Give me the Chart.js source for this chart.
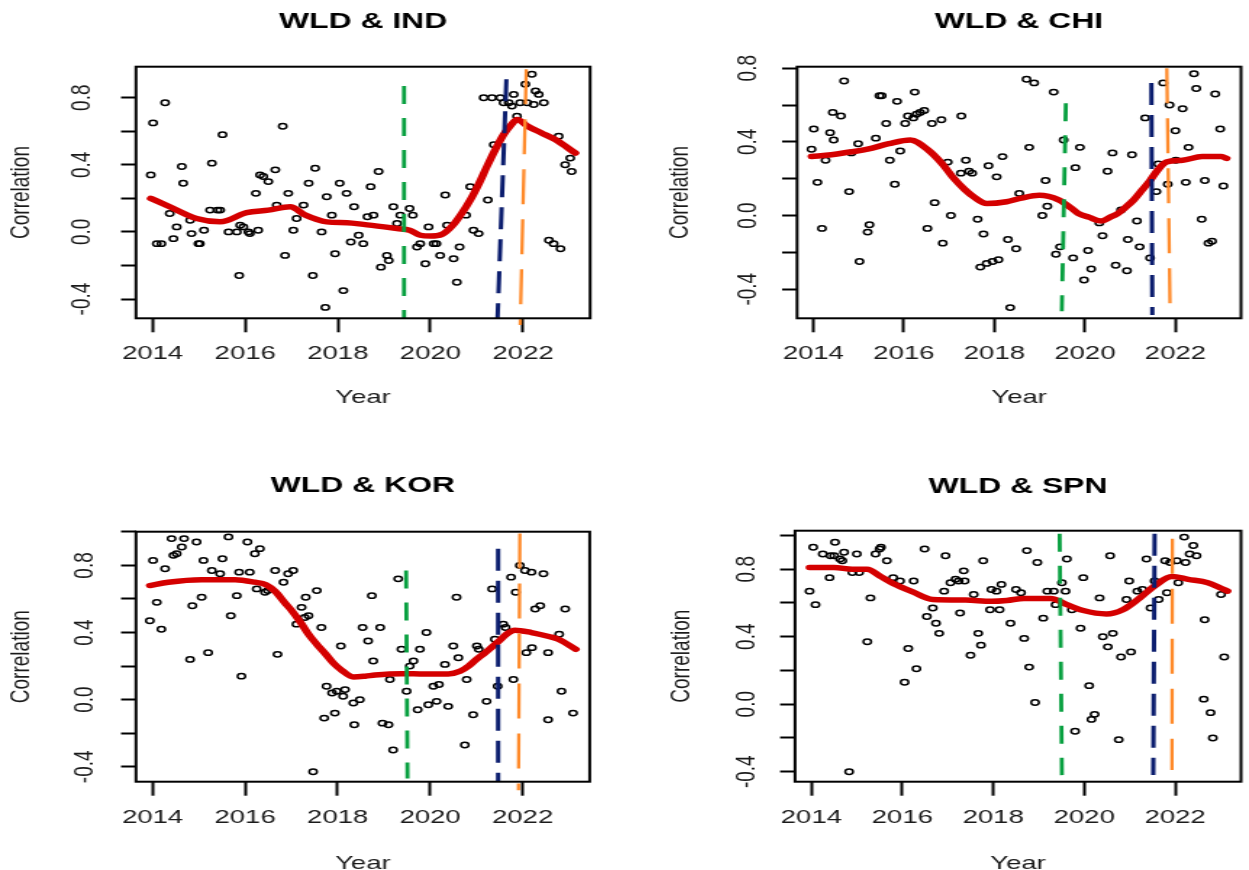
<!DOCTYPE html>
<html>
<head>
<meta charset="utf-8">
<script src="https://cdn.jsdelivr.net/npm/chart.js@4.4.1/dist/chart.umd.min.js"></script>
<style>
  html, body { margin: 0; padding: 0; background: #fff; overflow: hidden; }
  body { width: 1249px; height: 870px; position: relative; }
  canvas { position: absolute; }
</style>
</head>
<body>
<canvas id="pIND"></canvas>
<canvas id="pCHI"></canvas>
<canvas id="pKOR"></canvas>
<canvas id="pSPN"></canvas>
<script>
// axes
const xTicks = [2014, 2016, 2018, 2020, 2022];
const xRange = [2013.64, 2023.45];
const yTicks = [-0.4, -0.2, 0, 0.2, 0.4, 0.6, 0.8];
const yTicksTall = [-0.4, -0.2, 0, 0.2, 0.4, 0.6, 0.8, 1.0];
const yLabelled = [-0.4, 0, 0.4, 0.8];

// WLD & IND
const indYear = [2013.96,2014.01,2014.09,2014.19,2014.27,2014.37,2014.45,2014.52,2014.63,2014.66,
  2014.81,2014.84,2014.99,2015.02,2015.11,2015.24,2015.28,2015.40,2015.46,2015.51,
  2015.64,2015.82,2015.87,2015.89,2015.96,2016.07,2016.10,2016.23,2016.28,2016.32,
  2016.39,2016.50,2016.65,2016.68,2016.81,2016.86,2016.93,2017.04,2017.11,2017.26,
  2017.37,2017.46,2017.51,2017.65,2017.73,2017.76,2017.87,2017.94,2018.04,2018.12,
  2018.19,2018.28,2018.35,2018.45,2018.55,2018.64,2018.71,2018.77,2018.88,2018.93,
  2019.06,2019.10,2019.20,2019.28,2019.35,2019.55,2019.62,2019.71,2019.78,2019.89,
  2019.96,2020.07,2020.13,2020.21,2020.32,2020.36,2020.50,2020.57,2020.63,2020.77,
  2020.86,2020.93,2021.04,2021.15,2021.24,2021.33,2021.37,2021.51,2021.58,2021.69,
  2021.76,2021.80,2021.87,2021.94,2022.05,2022.09,2022.19,2022.23,2022.27,2022.34,
  2022.45,2022.56,2022.66,2022.77,2022.81,2022.91,2023.02,2023.05];
const indCorr = [0.34,0.65,-0.07,-0.07,0.77,0.11,-0.04,0.03,0.39,0.29,
  0.07,-0.01,-0.07,-0.07,0.01,0.13,0.41,0.13,0.13,0.58,
  0.00,0.00,-0.26,0.04,0.03,0.00,-0.01,0.23,0.01,0.34,
  0.33,0.30,0.37,0.16,0.63,-0.14,0.23,0.01,0.08,0.16,
  0.29,-0.26,0.38,0.00,-0.45,0.21,0.10,-0.13,0.29,-0.35,
  0.23,-0.06,0.15,-0.02,-0.07,0.09,0.27,0.10,0.36,-0.21,
  -0.14,-0.17,0.15,0.05,0.10,0.14,0.10,-0.09,-0.07,-0.19,
  0.03,-0.07,-0.07,-0.14,0.22,0.04,-0.16,-0.30,-0.09,0.10,
  0.27,0.01,-0.01,0.80,0.19,0.80,0.52,0.80,0.77,0.77,
  0.75,0.82,0.69,0.77,0.88,0.77,0.94,0.76,0.84,0.82,
  0.77,-0.05,-0.07,0.57,-0.10,0.40,0.44,0.36];
const indFitYear = [2013.96,2014.37,2014.95,2015.46,2016.03,2016.5,2016.97,2017.3,2017.76,2018.2,
  2018.55,2019.0,2019.28,2019.55,2019.78,2020.0,2020.25,2020.5,2020.7,2020.86,
  2021.05,2021.22,2021.4,2021.58,2021.75,2021.87,2022.1,2022.4,2022.7,2023.13];
const indFit = [0.20,0.15,0.08,0.06,0.115,0.13,0.15,0.10,0.06,0.055,
  0.045,0.03,0.02,0.01,-0.02,-0.025,-0.015,0.045,0.12,0.19,
  0.29,0.39,0.49,0.58,0.64,0.67,0.63,0.59,0.55,0.47];
const indMarkTopX = [2019.43, 2021.64, 2022.07];
const indMarkBotX = [2019.43, 2021.45, 2021.94];
const indMarkTop = [0.87, 0.91, 0.97];
const indMarkBot = [-0.515, -0.515, -0.555];
const indRange = [-0.515, 0.985];

// WLD & CHI
const chiYear = [2013.96,2014.01,2014.09,2014.19,2014.27,2014.37,2014.43,2014.45,2014.61,2014.68,
  2014.79,2014.84,2014.99,2015.02,2015.20,2015.24,2015.38,2015.46,2015.51,2015.61,
  2015.69,2015.80,2015.85,2015.92,2016.03,2016.09,2016.21,2016.24,2016.28,2016.36,
  2016.45,2016.52,2016.62,2016.68,2016.83,2016.86,2016.97,2017.04,2017.26,2017.27,
  2017.37,2017.44,2017.51,2017.63,2017.69,2017.76,2017.83,2017.87,2017.96,2018.05,
  2018.09,2018.18,2018.30,2018.35,2018.48,2018.55,2018.71,2018.77,2018.88,2019.06,
  2019.13,2019.17,2019.31,2019.36,2019.45,2019.53,2019.74,2019.79,2019.89,2019.98,
  2020.07,2020.14,2020.32,2020.39,2020.50,2020.61,2020.68,2020.80,2020.93,2020.95,
  2021.04,2021.15,2021.21,2021.33,2021.44,2021.58,2021.62,2021.73,2021.83,2021.87,
  2022.00,2022.01,2022.16,2022.23,2022.29,2022.41,2022.46,2022.58,2022.65,2022.73,
  2022.81,2022.88,2022.99,2023.06];
const chiCorr = [0.36,0.47,0.18,-0.07,0.30,0.45,0.56,0.41,0.54,0.73,
  0.13,0.34,0.39,-0.25,-0.09,-0.05,0.42,0.65,0.65,0.50,
  0.30,0.17,0.62,0.35,0.50,0.54,0.53,0.67,0.55,0.56,
  0.57,-0.07,0.50,0.07,0.52,-0.15,0.29,0.00,0.23,0.54,
  0.30,0.24,0.23,-0.02,-0.28,-0.10,-0.26,0.27,-0.25,0.21,
  -0.24,0.32,-0.13,-0.50,-0.18,0.12,0.74,0.37,0.72,0.00,
  0.19,0.05,0.67,-0.21,-0.17,0.41,-0.23,0.26,0.37,-0.35,
  -0.19,-0.29,-0.04,-0.11,0.24,0.34,-0.27,0.03,-0.30,-0.13,
  0.33,-0.03,-0.17,0.53,-0.23,0.13,0.28,0.72,0.17,0.60,
  0.46,0.30,0.58,0.18,0.37,0.77,0.69,-0.02,0.19,-0.15,
  -0.14,0.66,0.47,0.16];
const chiFitYear = [2013.96,2014.4,2014.81,2015.2,2015.67,2016.14,2016.54,2016.85,2017.11,2017.35,
  2017.55,2017.83,2018.27,2018.6,2018.99,2019.42,2019.7,2019.85,2020.1,2020.36,
  2020.55,2020.72,2020.9,2021.08,2021.27,2021.44,2021.62,2021.8,2022.16,2022.59,
  2023.02,2023.13];
const chiFit = [0.32,0.33,0.345,0.36,0.39,0.41,0.355,0.28,0.20,0.14,
  0.10,0.065,0.075,0.095,0.11,0.085,0.04,0.012,-0.01,-0.03,
  -0.01,0.01,0.045,0.085,0.14,0.19,0.25,0.29,0.30,0.32,
  0.32,0.31];
const chiMarkTopX = [2019.58, 2021.47, 2021.81];
const chiMarkBotX = [2019.49, 2021.49, 2021.88];
const chiMarkTop = [0.61, 0.72, 0.80];
const chiMarkBot = [-0.52, -0.54, -0.48];
const chiRange = [-0.558, 0.808];

// WLD & KOR
const korYear = [2013.94,2014.01,2014.09,2014.19,2014.27,2014.41,2014.45,2014.52,2014.63,2014.68,
  2014.81,2014.86,2014.95,2015.06,2015.10,2015.20,2015.28,2015.46,2015.51,2015.64,
  2015.69,2015.82,2015.87,2015.92,2016.05,2016.10,2016.21,2016.25,2016.32,2016.43,
  2016.49,2016.65,2016.70,2016.83,2016.93,2017.04,2017.11,2017.22,2017.29,2017.31,
  2017.37,2017.47,2017.55,2017.65,2017.71,2017.76,2017.88,2017.94,2017.98,2018.07,
  2018.12,2018.16,2018.34,2018.36,2018.48,2018.54,2018.66,2018.74,2018.77,2018.92,
  2018.97,2019.10,2019.13,2019.20,2019.31,2019.38,2019.49,2019.56,2019.64,2019.73,
  2019.78,2019.92,2019.96,2020.07,2020.14,2020.19,2020.32,2020.39,2020.50,2020.57,
  2020.61,2020.75,2020.79,2020.93,2021.01,2021.05,2021.22,2021.34,2021.40,2021.46,
  2021.58,2021.63,2021.75,2021.80,2021.85,2021.94,2022.05,2022.08,2022.19,2022.20,
  2022.27,2022.38,2022.45,2022.55,2022.55,2022.79,2022.84,2022.92,2023.09];
const korCorr = [0.47,0.83,0.58,0.42,0.78,0.96,0.86,0.87,0.91,0.96,
  0.24,0.56,0.94,0.61,0.83,0.28,0.77,0.75,0.84,0.97,
  0.50,0.62,0.76,0.14,0.94,0.76,0.87,0.66,0.90,0.64,
  0.65,0.77,0.27,0.70,0.75,0.77,0.45,0.55,0.49,0.61,
  0.50,-0.43,0.65,0.43,-0.11,0.08,0.04,-0.08,0.05,0.32,
  0.02,0.06,-0.02,-0.15,0.00,0.43,0.35,0.62,0.23,0.43,
  -0.14,-0.15,0.12,-0.30,0.72,0.30,0.05,0.20,0.23,-0.06,
  0.30,0.40,-0.03,0.08,-0.01,0.09,0.21,-0.04,0.32,0.61,
  0.25,-0.27,0.12,-0.09,0.32,0.30,-0.01,0.66,0.36,0.08,
  0.45,0.43,0.73,0.12,0.64,0.80,0.77,0.28,0.76,0.31,
  0.54,0.56,0.75,0.28,-0.12,0.39,0.05,0.54,-0.08];
const korFitYear = [2013.94,2014.34,2015.06,2015.78,2016.21,2016.45,2016.65,2016.85,2017.01,2017.2,
  2017.37,2017.55,2017.73,2017.9,2018.09,2018.34,2018.6,2018.81,2019.38,2019.89,
  2020.39,2020.65,2020.83,2021.0,2021.19,2021.47,2021.65,2021.83,2022.19,2022.59,
  2022.77,2023.15];
const korFit = [0.68,0.70,0.715,0.715,0.70,0.685,0.645,0.58,0.53,0.46,
  0.39,0.33,0.275,0.22,0.175,0.135,0.14,0.147,0.155,0.153,
  0.153,0.17,0.20,0.24,0.28,0.345,0.39,0.414,0.40,0.375,
  0.36,0.30];
const korMarkTopX = [2019.48, 2021.47, 2021.94];
const korMarkBotX = [2019.51, 2021.47, 2021.91];
const korMarkTop = [0.77, 0.90, 0.99];
const korMarkBot = [-0.47, -0.489, -0.54];
const korRange = [-0.489, 1.001];

// WLD & SPN
const spnYear = [2013.96,2014.04,2014.09,2014.25,2014.40,2014.42,2014.50,2014.52,2014.63,2014.68,
  2014.72,2014.83,2014.90,2015.00,2015.05,2015.23,2015.30,2015.41,2015.50,2015.53,
  2015.66,2015.80,2015.95,2016.05,2016.13,2016.25,2016.31,2016.49,2016.54,2016.67,
  2016.74,2016.81,2016.92,2016.95,2017.06,2017.17,2017.24,2017.27,2017.35,2017.37,
  2017.50,2017.57,2017.67,2017.73,2017.78,2017.93,2017.96,2018.07,2018.14,2018.18,
  2018.38,2018.50,2018.61,2018.68,2018.74,2018.79,2018.92,2018.97,2019.10,2019.19,
  2019.33,2019.37,2019.51,2019.59,2019.62,2019.73,2019.80,2019.92,2019.98,2020.11,
  2020.16,2020.23,2020.34,2020.41,2020.52,2020.57,2020.63,2020.76,2020.81,2020.93,
  2020.99,2021.03,2021.17,2021.28,2021.37,2021.46,2021.55,2021.64,2021.78,2021.82,
  2021.89,2022.04,2022.07,2022.20,2022.23,2022.32,2022.40,2022.47,2022.63,2022.65,
  2022.78,2022.83,2023.01,2023.08];
const spnCorr = [0.67,0.93,0.59,0.89,0.75,0.88,0.88,0.96,0.86,0.85,
  0.90,-0.40,0.78,0.89,0.78,0.37,0.63,0.89,0.92,0.93,
  0.85,0.75,0.73,0.13,0.33,0.73,0.21,0.92,0.52,0.57,
  0.48,0.42,0.67,0.88,0.72,0.74,0.73,0.54,0.79,0.73,
  0.29,0.65,0.42,0.35,0.85,0.56,0.68,0.67,0.56,0.71,
  0.48,0.68,0.66,0.39,0.91,0.22,0.01,0.84,0.51,0.67,
  0.67,0.59,0.72,0.67,0.86,0.56,-0.16,0.45,0.75,0.11,
  -0.09,-0.06,0.63,0.40,0.34,0.88,0.42,-0.21,0.28,0.62,
  0.73,0.31,0.67,0.68,0.86,0.57,0.73,0.62,0.85,0.66,
  0.84,0.85,0.72,0.99,0.84,0.89,0.94,0.88,0.03,0.50,
  -0.05,-0.20,0.65,0.28];
const spnFitYear = [2013.96,2014.5,2014.9,2015.23,2015.5,2015.8,2016.23,2016.67,2017.39,2017.96,
  2018.3,2018.68,2019.26,2019.62,2019.98,2020.49,2020.85,2021.21,2021.57,2021.93,
  2022.29,2022.72,2023.01,2023.15];
const spnFit = [0.81,0.81,0.80,0.80,0.76,0.715,0.665,0.62,0.617,0.61,
  0.615,0.627,0.627,0.59,0.555,0.535,0.56,0.627,0.705,0.756,
  0.74,0.72,0.687,0.67];
const spnMarkTopX = [2019.46, 2021.55, 2021.94];
const spnMarkBotX = [2019.51, 2021.52, 2021.93];
const spnMarkTop = [1.01, 1.01, 0.98];
const spnMarkBot = [-0.42, -0.42, -0.39];
const spnRange = [-0.459, 1.028];

// the original figure is stretched sideways, so each canvas is drawn narrow and widened by CSS
const SX = 1.45;
const FONT = 'Liberation Sans';

const markStyle = [
  { color: '#08a040', width: 2.8, dash: [18, 14] },
  { color: '#0b1d6e', width: 3, dash: [22, 10] },
  { color: '#ff8a2a', width: 2.3, dash: [35, 15] }
];

const layout = {
  IND: { left: 0, top: 0, w: 414, h: 420, axisW: 93.8, padR: 6.8, titleTop: 9.1, titleBot: 31.2, axisH: 101.7, yearPad: 10.6, corrPad: 3.6, yTickPad: 10.8 },
  CHI: { left: 640, top: 0, w: 420, h: 420, axisW: 108.3, padR: 0.7, titleTop: 9.1, titleBot: 31.2, axisH: 101.7, yearPad: 10.6, corrPad: 16.2, yTickPad: 6.9 },
  KOR: { left: 0, top: 440, w: 414, h: 450, axisW: 93.8, padR: 7.1, titleTop: 32.8, titleBot: 32.5, axisH: 108.3, yearPad: 14.6, corrPad: 3.6, yTickPad: 8.5 },
  SPN: { left: 640, top: 440, w: 420, h: 450, axisW: 106.9, padR: 0.7, titleTop: 33.8, titleBot: 30.5, axisH: 108.3, yearPad: 14.6, corrPad: 17.4, yTickPad: 6.4 }
};

const boxPlugin = {
  id: 'box',
  afterDraw(chart) {
    const { ctx, chartArea: a } = chart;
    ctx.save();
    ctx.strokeStyle = '#000';
    ctx.lineWidth = 2;
    ctx.strokeRect(a.left, a.top, a.right - a.left, a.bottom - a.top);
    ctx.restore();
  }
};

const pairs = (xs, ys) => xs.map((x, i) => ({ x, y: ys[i] }));

function panel(key, title, years, corr, fitYears, fit, mTopX, mBotX, mTop, mBot, range, yt) {
  const L = layout[key];
  const cv = document.getElementById('p' + key);
  cv.width = L.w;
  cv.height = L.h;
  cv.style.left = L.left + 'px';
  cv.style.top = L.top + 'px';
  cv.style.width = (L.w * SX) + 'px';
  cv.style.height = L.h + 'px';

  const marks = markStyle.map((m, i) => ({
    type: 'line',
    data: [{ x: mTopX[i], y: mTop[i] }, { x: mBotX[i], y: mBot[i] }],
    borderColor: m.color,
    borderWidth: m.width,
    borderDash: m.dash,
    pointRadius: 0,
    clip: false,
    order: 0
  }));

  new Chart(cv, {
    type: 'scatter',
    data: {
      datasets: [
        ...marks,
        {
          type: 'line',
          data: pairs(fitYears, fit),
          borderColor: '#d40000',
          borderWidth: 5.5,
          borderCapStyle: 'round',
          borderJoinStyle: 'round',
          cubicInterpolationMode: 'monotone',
          pointRadius: 0,
          order: 1
        },
        {
          data: pairs(years, corr),
          pointStyle: 'circle',
          pointRadius: 2.7,
          pointBorderWidth: 1.5,
          pointBorderColor: '#000',
          pointBackgroundColor: 'rgba(0,0,0,0)',
          order: 2
        }
      ]
    },
    options: {
      responsive: false,
      animation: false,
      events: [],
      layout: { padding: { left: 0, right: L.padR, top: 0, bottom: 0 } },
      plugins: {
        legend: { display: false },
        tooltip: { enabled: false },
        title: {
          display: true,
          text: title,
          fullSize: false,
          color: '#000',
          font: { family: FONT, size: 22, weight: 'bold' },
          padding: { top: L.titleTop, bottom: L.titleBot }
        }
      },
      scales: {
        x: {
          type: 'linear',
          min: xRange[0],
          max: xRange[1],
          afterBuildTicks: s => { s.ticks = xTicks.map(v => ({ value: v })); },
          afterFit: s => { s.height = L.axisH; },
          border: { display: false },
          grid: { drawOnChartArea: false, drawTicks: true, tickLength: 14, tickWidth: 2, tickColor: '#000' },
          ticks: {
            autoSkip: false, maxRotation: 0, padding: 10.3, color: '#1a1a1a',
            font: { family: FONT, size: 19 },
            callback: v => String(v)
          },
          title: {
            display: true, text: 'Year', color: '#1a1a1a',
            font: { family: FONT, size: 19 },
            padding: { top: 0, bottom: L.yearPad }
          }
        },
        y: {
          min: range[0],
          max: range[1],
          afterBuildTicks: s => { s.ticks = yt.map(v => ({ value: v })); },
          afterFit: s => { s.width = L.axisW; },
          border: { display: false },
          grid: { drawOnChartArea: false, drawTicks: true, tickLength: 10.3, tickWidth: 2, tickColor: '#000' },
          ticks: {
            autoSkip: false, minRotation: 90, maxRotation: 90, crossAlign: 'center',
            padding: L.yTickPad, color: '#1a1a1a',
            font: { family: FONT, size: 19 },
            callback: v => yLabelled.some(t => Math.abs(t - v) < 1e-6) ? v.toFixed(1) : ''
          },
          title: {
            display: true, text: 'Correlation', color: '#1a1a1a',
            font: { family: FONT, size: 19 },
            padding: { top: L.corrPad, bottom: 0 }
          }
        }
      }
    },
    plugins: [boxPlugin]
  });
}

panel('IND', 'WLD & IND', indYear, indCorr, indFitYear, indFit, indMarkTopX, indMarkBotX, indMarkTop, indMarkBot, indRange, yTicks);
panel('CHI', 'WLD & CHI', chiYear, chiCorr, chiFitYear, chiFit, chiMarkTopX, chiMarkBotX, chiMarkTop, chiMarkBot, chiRange, yTicks);
panel('KOR', 'WLD & KOR', korYear, korCorr, korFitYear, korFit, korMarkTopX, korMarkBotX, korMarkTop, korMarkBot, korRange, yTicksTall);
panel('SPN', 'WLD & SPN', spnYear, spnCorr, spnFitYear, spnFit, spnMarkTopX, spnMarkBotX, spnMarkTop, spnMarkBot, spnRange, yTicksTall);
</script>
</body>
</html>
